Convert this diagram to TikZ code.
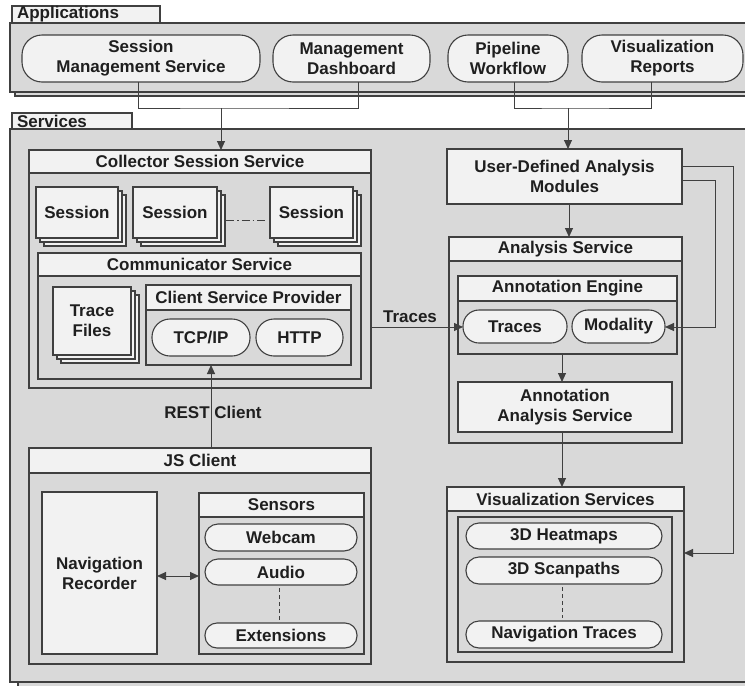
\documentclass[tikz,border=0pt]{standalone}
\usepackage{fontspec}
\setmainfont{Liberation Sans}
\usetikzlibrary{arrows.meta}
\definecolor{bggray}{HTML}{D9D9D9}
\definecolor{sheet}{HTML}{F2F2F2}
\definecolor{edge}{HTML}{404040}
\definecolor{ink}{HTML}{1F1F1F}

% box from its corners: name, style, x1, y1, x2, y2, text
\newcommand{\mkbox}[7]{\node[#2, minimum width={(#5)-(#3)}, minimum height={(#6)-(#4)}] (#1) at ({((#3)+(#5))/2},{((#4)+(#6))/2}) {#7};}
% panel with a title strip: name, x1, y1, x2, y2, y of strip bottom, title
\newcommand{\mkpanel}[7]{%
  \mkbox{#1}{panel}{#2}{#3}{#4}{#5}{}
  \mkbox{#1-h}{header}{#2}{#3}{#4}{#6}{#7}}
% stack of three sheets: name, x1, y1, x2, y2, text
\newcommand{\mkstack}[6]{%
  \path[sheetbox] ({(#2)+8},{(#3)+8}) rectangle ({(#4)+8},{(#5)+8});
  \path[sheetbox] ({(#2)+4},{(#3)+4}) rectangle ({(#4)+4},{(#5)+4});
  \mkbox{#1}{sheetbox}{#2}{#3}{#4}{#5}{#6}}

\begin{document}
\begin{tikzpicture}[x=1pt,y=-1pt,
  every node/.style={font=\fontsize{17}{20}\selectfont\bfseries, text=ink, align=center, inner sep=0pt, outer sep=0pt},
  panel/.style={draw=edge, fill=bggray, line width=1.1pt},
  header/.style={draw=edge, fill=sheet, line width=1.1pt},
  sheetbox/.style={draw=edge, fill=sheet, line width=1.1pt},
  pill/.style={draw=edge, fill=sheet, line width=1.1pt, rounded corners=#1},
  conn/.style={draw=edge, line width=1pt},
  arr/.style={conn, -{Triangle[length=9pt,width=8pt]}},
  dotted line/.style={draw=edge, line width=1pt, dash pattern=on 4pt off 3pt}]

\path[use as bounding box] (0,0) rectangle (745,686);
\clip (0,0) rectangle (745,686);
\fill[white] (0,0) rectangle (745,686);

% ---------------- Applications layer ----------------
\path[panel] (15,27) rectangle (760,96);
\mkbox{apps}{panel}{10}{23}{760}{92}{}
\mkbox{appstab}{header}{12}{6}{160}{23}{}
\node[anchor=west] (appstabtxt) at ([xshift=5pt]appstab.west) {Applications};

\mkbox{sms}{pill=20}{22}{35}{260}{82}{Session\\Management Service}
\mkbox{dash}{pill=20}{273}{35}{430}{82}{Management\\Dashboard}
\mkbox{pw}{pill=20}{448}{35}{568}{82}{Pipeline\\Workflow}
\mkbox{vr}{pill=20}{582}{35}{743}{82}{Visualization\\Reports}

% ---------------- Services layer ----------------
\path[panel] (18,133) rectangle (760,690);
\mkbox{svc}{panel}{10}{129}{760}{682}{}
\mkbox{svctab}{header}{12}{113}{132}{129}{}
\node[anchor=west] (svctabtxt) at ([xshift=5pt]svctab.west) {Services};

% collector side
\mkpanel{cs}{29}{150}{371}{388}{173}{Collector Session Service}
\mkstack{s1}{36}{187}{118}{238}{Session}
\mkstack{s2}{133}{187}{217}{238}{Session}
\mkstack{s3}{270}{187}{353}{238}{Session}
\mkpanel{cm}{38}{253}{361}{379}{276}{Communicator Service}
\mkstack{tf}{53}{287}{131}{355}{Trace\\Files}
\mkpanel{csp}{146}{285}{351}{365}{310}{Client Service Provider}
\mkbox{tcp}{pill=18}{152}{319}{250}{356}{TCP/IP}
\mkbox{http}{pill=18}{256}{319}{343}{356}{HTTP}

% client side
\mkpanel{js}{29}{448}{371}{664}{473}{JS Client}
\mkbox{nr}{sheetbox}{42}{492}{157}{654}{Navigation\\Recorder}
\mkpanel{sn}{199}{493}{364}{654}{517}{Sensors}
\mkbox{cam}{pill=13}{205}{524}{357}{551}{Webcam}
\mkbox{aud}{pill=13}{205}{559}{357}{585}{Audio}
\mkbox{ext}{pill=12}{205}{623}{357}{648}{Extensions}

% analysis side
\mkbox{ud}{sheetbox}{447}{149}{682}{204}{User-Defined Analysis\\Modules}
\mkpanel{an}{449}{237}{682}{443}{261}{Analysis Service}
\mkpanel{ae}{458}{276}{677}{354}{301}{Annotation Engine}
\mkbox{trc}{pill=16}{463}{310}{567}{343}{Traces}
\mkbox{mod}{pill=16}{572}{310}{665}{343}{Modality}
\mkbox{aas}{sheetbox}{458}{382}{672}{432}{Annotation\\Analysis Service}
\mkpanel{vs}{447}{487}{684}{662}{511}{Visualization Services}
\mkbox{vsi}{panel}{458}{517}{672}{652}{}
\mkbox{heat}{pill=13}{466}{523}{662}{549}{3D Heatmaps}
\mkbox{scan}{pill=13}{466}{557}{662}{584}{3D Scanpaths}
\mkbox{navt}{pill=13}{466}{621}{662}{648}{Navigation Traces}

% ---------------- connectors ----------------
\coordinate (j1) at (221,108);
\coordinate (j2) at (568,108);
\draw[conn] (sms.south -| 138,0) |- (j1) -| (dash.south -| 358,0);
\draw[arr] (j1) -- (j1 |- cs.north);
\draw[conn] (pw.south -| 514,0) |- (j2) -| (vr.south -| 651,0);
\draw[arr] (j2) -- (j2 |- ud.north);

\draw[draw=edge, line width=1pt, dash pattern=on 8pt off 3pt on 1.5pt off 3pt, shorten <=9pt, shorten >=3pt]
  (s2.east |- 0,220) -- (s3.west |- 0,220);

\node (restlbl) at (213,412) {REST Client};
\draw[arr] (js.north -| 211,0) -- (csp.south -| 211,0);

\draw[conn, {Triangle[length=9pt,width=8pt]}-{Triangle[length=9pt,width=8pt]}]
  (nr.east |- 0,576) -- (sn.west |- 0,576);
\draw[dotted line, shorten <=3pt, shorten >=3pt] (aud.south -| 279,0) -- (ext.north -| 279,0);

\node (traceslbl) at (410,317) {Traces};
\draw[arr] (cs.east |- 0,327) -- (trc.west |- 0,327);

\draw[arr] (ud.south -| 569,0) -- (an.north -| 569,0);
\draw[arr] (ae.south -| 562,0) -- (aas.north -| 562,0);
\draw[arr] (aas.south -| 562,0) -- (vs.north -| 562,0);
\draw[dotted line, shorten <=3pt, shorten >=3pt] (scan.south -| 562,0) -- (navt.north -| 562,0);

\coordinate (r1) at (733,553);
\coordinate (r2) at (715,327);
\draw[arr] (ud.east |- 0,166) -| (r1) -- (vs.east |- r1);
\draw[arr] (ud.east |- 0,180) -| (r2) -- (mod.east |- r2);
\end{tikzpicture}
\end{document}
